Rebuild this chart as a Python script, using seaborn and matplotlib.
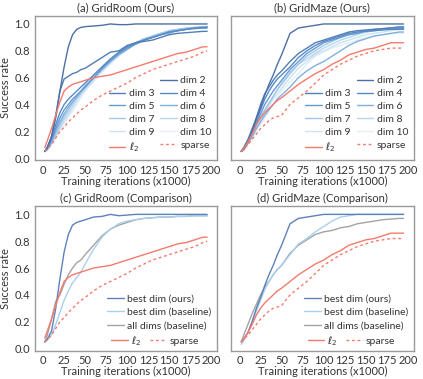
import numpy as np
import pandas as pd
import seaborn as sns
import matplotlib.pyplot as plt
from matplotlib.lines import Line2D

sns.set_style("white")
plt.rcParams['font.family'] = ['Lato', 'DejaVu Sans']
plt.rcParams['text.color'] = '#333333'
plt.rcParams['xtick.color'] = '#333333'
plt.rcParams['ytick.color'] = '#333333'
plt.rcParams['axes.labelcolor'] = '#333333'

iters = [2, 5, 10, 15, 20, 25, 30, 35, 40, 45, 50, 60, 70, 80, 90, 100, 110, 120, 130, 140, 150, 160, 170, 180, 190, 195]

# (a) GridRoom, ours
room_dims = {
    'dim 2':  [0.05, 0.08, 0.16, 0.30, 0.50, 0.68, 0.83, 0.92, 0.96, 0.975, 0.98, 0.985, 0.99, 1.0, 0.995, 0.995, 1.0, 1.0, 1.0, 1.0, 1.0, 1.0, 1.0, 1.0, 1.0, 1.0],
    'dim 3':  [0.05, 0.08, 0.16, 0.32, 0.50, 0.59, 0.61, 0.63, 0.64, 0.66, 0.67, 0.71, 0.75, 0.79, 0.80, 0.84, 0.86, 0.87, 0.88, 0.90, 0.92, 0.93, 0.935, 0.94, 0.945, 0.945],
    'dim 4':  [0.05, 0.08, 0.15, 0.25, 0.34, 0.40, 0.44, 0.47, 0.50, 0.53, 0.56, 0.62, 0.68, 0.74, 0.79, 0.83, 0.86, 0.88, 0.90, 0.92, 0.94, 0.95, 0.96, 0.97, 0.97, 0.975],
    'dim 5':  [0.05, 0.07, 0.13, 0.22, 0.30, 0.36, 0.40, 0.44, 0.47, 0.50, 0.53, 0.60, 0.67, 0.73, 0.78, 0.82, 0.85, 0.88, 0.90, 0.92, 0.94, 0.95, 0.96, 0.965, 0.97, 0.97],
    'dim 6':  [0.05, 0.07, 0.12, 0.20, 0.27, 0.33, 0.38, 0.42, 0.46, 0.50, 0.54, 0.60, 0.66, 0.72, 0.77, 0.81, 0.85, 0.88, 0.90, 0.92, 0.93, 0.95, 0.96, 0.97, 0.98, 0.98],
    'dim 7':  [0.05, 0.07, 0.12, 0.18, 0.25, 0.31, 0.36, 0.41, 0.45, 0.49, 0.53, 0.60, 0.67, 0.73, 0.78, 0.83, 0.86, 0.89, 0.91, 0.93, 0.95, 0.96, 0.97, 0.975, 0.98, 0.98],
    'dim 8':  [0.05, 0.06, 0.11, 0.17, 0.23, 0.29, 0.34, 0.39, 0.44, 0.48, 0.52, 0.59, 0.66, 0.72, 0.78, 0.82, 0.86, 0.89, 0.91, 0.93, 0.95, 0.96, 0.965, 0.97, 0.975, 0.98],
    'dim 9':  [0.05, 0.06, 0.10, 0.16, 0.22, 0.27, 0.32, 0.37, 0.42, 0.47, 0.51, 0.58, 0.65, 0.71, 0.77, 0.82, 0.85, 0.88, 0.91, 0.93, 0.94, 0.95, 0.96, 0.97, 0.975, 0.98],
    'dim 10': [0.05, 0.06, 0.10, 0.15, 0.20, 0.25, 0.30, 0.35, 0.40, 0.45, 0.50, 0.57, 0.64, 0.70, 0.76, 0.81, 0.85, 0.88, 0.90, 0.92, 0.94, 0.95, 0.96, 0.97, 0.97, 0.975],
}
room_l2 =     [0.08, 0.13, 0.22, 0.32, 0.42, 0.50, 0.53, 0.55, 0.56, 0.57, 0.58, 0.60, 0.61, 0.62, 0.64, 0.66, 0.68, 0.70, 0.72, 0.74, 0.76, 0.78, 0.79, 0.81, 0.83, 0.83]
room_sparse = [0.05, 0.07, 0.10, 0.15, 0.20, 0.23, 0.27, 0.30, 0.33, 0.36, 0.38, 0.43, 0.47, 0.50, 0.53, 0.56, 0.60, 0.63, 0.66, 0.68, 0.70, 0.72, 0.74, 0.76, 0.79, 0.80]

# (b) GridMaze, ours
maze_dims = {
    'dim 2':  [0.05, 0.07, 0.12, 0.20, 0.30, 0.38, 0.47, 0.55, 0.62, 0.70, 0.77, 0.93, 0.97, 0.98, 0.99, 1.0, 1.0, 1.0, 1.0, 1.0, 1.0, 1.0, 1.0, 1.0, 1.0, 1.0],
    'dim 3':  [0.05, 0.08, 0.14, 0.22, 0.30, 0.40, 0.48, 0.53, 0.58, 0.62, 0.65, 0.72, 0.78, 0.82, 0.86, 0.88, 0.90, 0.92, 0.94, 0.95, 0.955, 0.96, 0.965, 0.97, 0.97, 0.97],
    'dim 4':  [0.05, 0.07, 0.13, 0.20, 0.28, 0.36, 0.44, 0.50, 0.55, 0.59, 0.62, 0.68, 0.75, 0.80, 0.84, 0.87, 0.89, 0.91, 0.93, 0.94, 0.945, 0.95, 0.955, 0.96, 0.96, 0.96],
    'dim 5':  [0.05, 0.07, 0.12, 0.19, 0.26, 0.33, 0.40, 0.45, 0.50, 0.54, 0.58, 0.66, 0.72, 0.78, 0.82, 0.86, 0.88, 0.90, 0.92, 0.93, 0.95, 0.96, 0.965, 0.97, 0.98, 0.98],
    'dim 6':  [0.05, 0.06, 0.11, 0.16, 0.22, 0.27, 0.32, 0.36, 0.40, 0.44, 0.47, 0.53, 0.60, 0.65, 0.69, 0.72, 0.76, 0.80, 0.84, 0.87, 0.89, 0.91, 0.92, 0.93, 0.94, 0.94],
    'dim 7':  [0.05, 0.07, 0.12, 0.18, 0.25, 0.31, 0.36, 0.41, 0.46, 0.51, 0.55, 0.63, 0.70, 0.76, 0.80, 0.84, 0.87, 0.90, 0.92, 0.93, 0.94, 0.95, 0.96, 0.96, 0.97, 0.97],
    'dim 8':  [0.05, 0.06, 0.12, 0.18, 0.24, 0.30, 0.35, 0.41, 0.46, 0.51, 0.56, 0.64, 0.70, 0.74, 0.78, 0.82, 0.85, 0.88, 0.90, 0.92, 0.94, 0.95, 0.96, 0.97, 0.98, 0.98],
    'dim 9':  [0.05, 0.06, 0.11, 0.17, 0.23, 0.28, 0.33, 0.39, 0.44, 0.48, 0.52, 0.60, 0.67, 0.72, 0.77, 0.80, 0.83, 0.86, 0.88, 0.90, 0.92, 0.93, 0.94, 0.95, 0.96, 0.96],
    'dim 10': [0.05, 0.06, 0.10, 0.15, 0.20, 0.25, 0.30, 0.35, 0.40, 0.45, 0.50, 0.57, 0.63, 0.70, 0.76, 0.79, 0.82, 0.84, 0.86, 0.88, 0.90, 0.91, 0.92, 0.93, 0.93, 0.93],
}
maze_l2 =     [0.05, 0.07, 0.12, 0.18, 0.25, 0.30, 0.34, 0.37, 0.40, 0.43, 0.45, 0.50, 0.55, 0.59, 0.63, 0.66, 0.70, 0.73, 0.77, 0.79, 0.81, 0.82, 0.84, 0.86, 0.86, 0.86]
maze_sparse = [0.05, 0.07, 0.10, 0.14, 0.18, 0.22, 0.25, 0.28, 0.30, 0.31, 0.32, 0.40, 0.45, 0.50, 0.56, 0.62, 0.66, 0.70, 0.73, 0.76, 0.78, 0.80, 0.81, 0.82, 0.82, 0.82]

# (c) GridRoom, comparison
room_best_ours =     [0.05, 0.07, 0.13, 0.30, 0.52, 0.72, 0.85, 0.92, 0.94, 0.95, 0.96, 0.98, 0.985, 1.0, 0.99, 0.995, 1.0, 1.0, 1.0, 1.0, 1.0, 1.0, 1.0, 1.0, 1.0, 1.0]
room_best_baseline = [0.05, 0.06, 0.10, 0.18, 0.27, 0.36, 0.43, 0.49, 0.53, 0.57, 0.63, 0.74, 0.83, 0.89, 0.93, 0.95, 0.96, 0.97, 0.975, 0.98, 0.98, 0.985, 0.985, 0.99, 0.99, 0.99]
room_all_dims =      [0.05, 0.10, 0.22, 0.35, 0.40, 0.48, 0.55, 0.60, 0.64, 0.66, 0.70, 0.77, 0.84, 0.89, 0.92, 0.94, 0.96, 0.97, 0.975, 0.98, 0.98, 0.985, 0.985, 0.99, 0.99, 0.99]

# (d) GridMaze, comparison
maze_best_ours =     [0.05, 0.07, 0.12, 0.20, 0.30, 0.38, 0.47, 0.55, 0.62, 0.70, 0.77, 0.93, 0.97, 0.98, 0.99, 1.0, 1.0, 1.0, 1.0, 1.0, 1.0, 1.0, 1.0, 1.0, 1.0, 1.0]
maze_best_baseline = [0.03, 0.06, 0.12, 0.20, 0.28, 0.36, 0.44, 0.50, 0.55, 0.59, 0.62, 0.70, 0.78, 0.82, 0.87, 0.91, 0.95, 0.98, 0.99, 1.0, 1.0, 1.0, 1.0, 1.0, 1.0, 1.0]
maze_all_dims =      [0.05, 0.10, 0.18, 0.26, 0.33, 0.40, 0.46, 0.50, 0.55, 0.59, 0.62, 0.71, 0.77, 0.81, 0.85, 0.87, 0.88, 0.90, 0.91, 0.93, 0.94, 0.95, 0.96, 0.965, 0.97, 0.97]

red = '#f47a6c'
dim_colors = sns.blend_palette(['#4c6fa6', '#5b93cf', '#a9cdec', '#e2eef8'], 9)
gray_edge = '#9a9a9a'

fig, axes = plt.subplots(2, 2, figsize=(4.23, 3.79), dpi=100, sharey=True)
fig.subplots_adjust(left=0.082, right=0.978, top=0.958, bottom=0.075, wspace=0.076, hspace=0.32)

def style(ax, title):
    ax.set_title(title, fontsize=8, pad=3)
    ax.set_xlim(-10, 207)
    ax.set_ylim(-0.015, 1.06)
    ax.set_xticks([0, 25, 50, 75, 100, 125, 150, 175, 200])
    ax.set_yticks([0.0, 0.2, 0.4, 0.6, 0.8, 1.0])
    ax.set_xlabel('Training iterations (x1000)', fontsize=8, labelpad=0)
    ax.tick_params(labelsize=8, length=2.5, width=0.8, color=gray_edge, pad=1)
    for s in ax.spines.values():
        s.set_color(gray_edge)
        s.set_linewidth(1.0)

def draw(ax, y, color, label, ls='-'):
    sns.lineplot(x=iters, y=y, color=color, ax=ax, lw=1.0, linestyle=ls, label=label, legend=False)

for ax, dims, l2, sp, title in [(axes[0, 0], room_dims, room_l2, room_sparse, '(a) GridRoom (Ours)'),
                                (axes[0, 1], maze_dims, maze_l2, maze_sparse, '(b) GridMaze (Ours)')]:
    for i, (name, vals) in enumerate(list(dims.items())[::-1]):
        draw(ax, vals, dim_colors[8 - i], name)
    draw(ax, sp, red, 'sparse', ls=(0, (2, 2)))
    draw(ax, l2, red, r'$\ell_2$')
    style(ax, title)
    h = {l.get_label(): l for l in ax.get_lines()}
    blank = Line2D([], [], color='none')
    order = [blank, h['dim 3'], h['dim 5'], h['dim 7'], h['dim 9'], h[r'$\ell_2$'],
             h['dim 2'], h['dim 4'], h['dim 6'], h['dim 8'], h['dim 10'], h['sparse']]
    labels = ['', 'dim 3', 'dim 5', 'dim 7', 'dim 9', r'$\ell_2$',
              'dim 2', 'dim 4', 'dim 6', 'dim 8', 'dim 10', 'sparse']
    ax.legend(order, labels, ncol=2, loc='lower right', frameon=False, fontsize=7.5,
              handlelength=1.6, handletextpad=0.3, columnspacing=0.6, labelspacing=0.35,
              borderaxespad=0.15)

for ax, best, base, alld, l2, sp, title in [
        (axes[1, 0], room_best_ours, room_best_baseline, room_all_dims, room_l2, room_sparse, '(c) GridRoom (Comparison)'),
        (axes[1, 1], maze_best_ours, maze_best_baseline, maze_all_dims, maze_l2, maze_sparse, '(d) GridMaze (Comparison)')]:
    draw(ax, alld, '#a3a3a3', 'all dims (baseline)')
    draw(ax, base, '#a9d0ee', 'best dim (baseline)')
    draw(ax, best, '#5d82ba', 'best dim (ours)')
    draw(ax, sp, red, 'sparse', ls=(0, (2, 2)))
    draw(ax, l2, red, r'$\ell_2$')
    style(ax, title)
    h = {l.get_label(): l for l in ax.get_lines()}
    leg1 = ax.legend([h['best dim (ours)'], h['best dim (baseline)'], h['all dims (baseline)']],
                     ['best dim (ours)', 'best dim (baseline)', 'all dims (baseline)'],
                     loc='lower right', bbox_to_anchor=(1.0, 0.1), frameon=False, fontsize=7.5,
                     handlelength=1.6, handletextpad=0.3, labelspacing=0.4, borderaxespad=0.15)
    ax.add_artist(leg1)
    ax.legend([h[r'$\ell_2$'], h['sparse']], [r'$\ell_2$', 'sparse'], ncol=2,
              loc='lower right', bbox_to_anchor=(0.93, -0.02), frameon=False, fontsize=7.5,
              handlelength=1.6, handletextpad=0.3, columnspacing=0.8, borderaxespad=0.15)

axes[0, 0].set_ylabel('Success rate', fontsize=8, labelpad=2)
axes[1, 0].set_ylabel('Success rate', fontsize=8, labelpad=2)
axes[0, 1].set_ylabel('')
axes[1, 1].set_ylabel('')

fig.savefig('out.png', dpi=100)
